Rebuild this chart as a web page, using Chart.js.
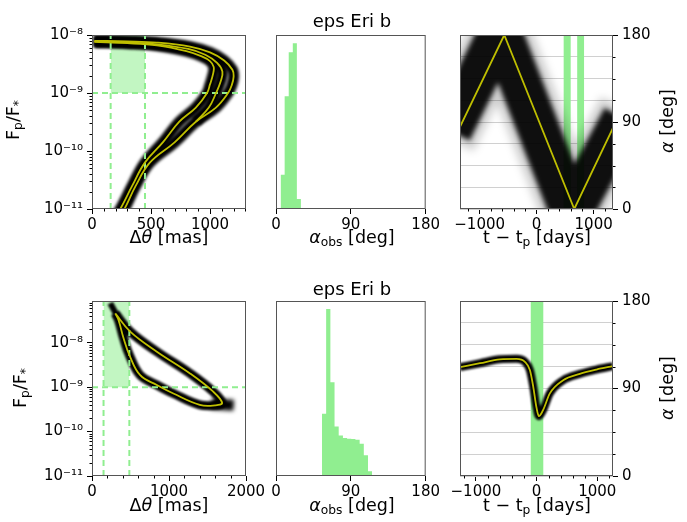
<!DOCTYPE html>
<html>
<head>
<meta charset="utf-8">
<title>eps Eri b</title>
<script src="https://cdn.jsdelivr.net/npm/chart.js@4.4.1/dist/chart.umd.min.js"></script>
<style>
  body { margin: 0; width: 687px; height: 522px; position: relative; overflow: hidden; background: #fff;
         font-family: "DejaVu Sans", sans-serif; color: #000; }
  canvas { position: absolute; }
  .lbl { position: absolute; font-size: 17.5px; white-space: nowrap; transform: translate(-50%, -50%); }
  .ttl { font-size: 18px; }
  .rot { transform: translate(-50%, -50%) rotate(-90deg); }
  sub { font-size: 70%; vertical-align: -0.25em; line-height: 0; }
</style>
</head>
<body>
<canvas id="sepTop"></canvas>
<canvas id="histTop"></canvas>
<canvas id="timeTop"></canvas>
<canvas id="sepBot"></canvas>
<canvas id="histBot"></canvas>
<canvas id="timeBot"></canvas>

<div class="lbl ttl" style="left:352px;top:20px;">eps Eri b</div>
<div class="lbl ttl" style="left:352px;top:288px;">eps Eri b</div>

<div class="lbl" style="left:169px;top:237px;">Δ<i>θ</i> [mas]</div>
<div class="lbl" style="left:352px;top:237px;"><i>α</i><sub>obs</sub> [deg]</div>
<div class="lbl" style="left:537px;top:237px;">t − t<sub>p</sub> [days]</div>
<div class="lbl" style="left:169px;top:505px;">Δ<i>θ</i> [mas]</div>
<div class="lbl" style="left:352px;top:505px;"><i>α</i><sub>obs</sub> [deg]</div>
<div class="lbl" style="left:537px;top:505px;">t − t<sub>p</sub> [days]</div>

<div class="lbl rot" style="left:13px;top:120px;">F<sub>p</sub>/F<sub>*</sub></div>
<div class="lbl rot" style="left:20px;top:388px;">F<sub>p</sub>/F<sub>*</sub></div>
<div class="lbl rot" style="left:667px;top:121px;"><i>α</i> [deg]</div>
<div class="lbl rot" style="left:667px;top:388px;"><i>α</i> [deg]</div>

<script>
// ---- values ----

// top row, flux ratio vs separation: three yellow tracks (mas, Fp/F*)
const sepInner = [20, 300, 550, 800, 930, 1000, 1031, 1025, 1000, 975, 880, 740, 600, 448, 340, 240, 190];
const fluxInner = [7.59e-9, 7.24e-9, 6.61e-9, 5.25e-9, 4.27e-9, 3.55e-9, 2.82e-9, 2.09e-9, 1.41e-9, 1.0e-9,
                   5.6e-10, 3.2e-10, 1.41e-10, 6.3e-11, 2.5e-11, 1.0e-11, 7e-12];
const sepMid = [20, 300, 550, 815, 960, 1060, 1105, 1090, 1051, 990, 880];
const fluxMid = [7.76e-9, 7.41e-9, 6.92e-9, 5.75e-9, 4.57e-9, 3.31e-9, 2.34e-9, 1.58e-9, 1.0e-9, 5.6e-10, 3.2e-10];
const sepOuter = [20, 300, 550, 830, 1000, 1120, 1190, 1200, 1185, 1153, 1050, 880, 700, 490, 370, 275, 225];
const fluxOuter = [7.94e-9, 7.76e-9, 7.41e-9, 6.31e-9, 5.01e-9, 3.63e-9, 2.51e-9, 1.91e-9, 1.38e-9, 1.0e-9,
                   5.6e-10, 3.2e-10, 1.41e-10, 6.3e-11, 2.5e-11, 1.0e-11, 7e-12];

// bottom row, flux ratio vs separation: one loop
const sepLoop = [302, 496, 842, 1273, 1575, 1690, 1600, 1400, 1057, 842, 626, 487, 410, 345, 302];
const fluxLoop = [4.57e-8, 1.78e-8, 6.3e-9, 2.04e-9, 7.9e-10, 4.4e-10, 3.9e-10, 4.0e-10, 7.2e-10,
                  1.12e-9, 1.86e-9, 5.2e-9, 1.26e-8, 3.2e-8, 4.57e-8];
const sepTail = [237, 330];
const fluxTail = [7.8e-8, 3.9e-8];
const sepTip = [1550, 1840];
const fluxTip = [4.2e-10, 3.9e-10];

// detection window (dashed green lines)
const iwaTop = 158, owaTop = 449;
const iwaBot = 150, owaBot = 485;
const fluxLimit = 1e-9;
const fluxMaxBot = 8.7e-8;

// observable phase angle histograms (deg, counts)
const alphaEdgesTop = [5.5, 10.4, 15.3, 20.2, 25.1, 30.0];
const alphaCountsTop = [103, 340, 473, 500, 30];
const alphaEdgesBot = [55.3, 60.3, 65.4, 70.4, 75.4, 80.5, 85.5, 90.5, 95.5, 100.6, 105.6, 110.6, 115.6];
const alphaCountsBot = [186, 498, 280, 148, 121, 113, 111, 110, 108, 96, 62, 14];

// phase angle vs time (days, deg)
const tFitTop = [-1345, -568, 660, 1340];
const alphaFitTop = [85, 180, 0, 84];
const tBandTop = [-1345, -640, 610, 1340];
const alphaBandTop = [100, 185, -5, 75];
const obsStartTop = [470, 710];
const obsEndTop = [600, 835];

const tFitBot = [-1262, -932, -604, -329, -192, -110, -55, 0, 38, 109, 219, 438, 712, 987, 1260];
const alphaFitBot = [112, 116, 120, 120.5, 117.5, 109, 92, 70, 61.5, 68, 85, 98.5, 105, 109.5, 113];
const obsStartBot = [-100];
const obsEndBot = [115];

// ---- styling helpers ----
const GREEN = '#90ee90';
const YELLOW = '#bfbf00';
const FONT = { family: 'DejaVu Sans', size: 15 };
const SUP = { '-': '\u207b', '0': '\u2070', '1': '\u00b9', '2': '\u00b2', '3': '\u00b3', '4': '\u2074',
              '5': '\u2075', '6': '\u2076', '7': '\u2077', '8': '\u2078', '9': '\u2079' };

function pts(xs, ys) {
    return xs.map((x, i) => ({ x: x, y: ys[i] }));
}

function histPoints(edges, counts) {
    const out = [{ x: edges[0], y: 0 }];
    counts.forEach((c, i) => out.push({ x: edges[i], y: c }));
    out.push({ x: edges[edges.length - 1], y: counts[counts.length - 1] });
    out.push({ x: edges[edges.length - 1], y: 0 });
    return out;
}

function num(v) {
    v = Math.round(v);
    return v < 0 ? '\u2212' + (-v) : String(v);
}

function logLabel(v) {
    const e = Math.log10(v);
    if (Math.abs(e - Math.round(e)) > 1e-6) return '';
    return '10' + String(Math.round(e)).split('').map(c => SUP[c]).join('');
}

const majorOnly = c => (c.tick && c.tick.label ? '#000' : 'rgba(0,0,0,0)');

function stepTicks(step) {
    return s => {
        const t = [];
        for (let v = Math.ceil(s.min / step - 1e-9) * step; v <= s.max + 1e-9; v += step) t.push({ value: v });
        s.ticks = t;
    };
}

function logTicks(s) {
    const t = [];
    for (let e = -12; e <= -6; e++) {
        for (let m = 1; m < 10; m++) {
            const v = m * Math.pow(10, e);
            if (v >= s.min * 0.999 && v <= s.max * 1.001) t.push({ value: v });
        }
    }
    s.ticks = t;
}

function linearAxis(min, max, step, major, position) {
    return {
        type: 'linear', min: min, max: max, bounds: 'data', position: position,
        border: { display: false },
        grid: { drawOnChartArea: false, tickLength: 5, tickColor: majorOnly },
        afterBuildTicks: stepTicks(step),
        ticks: {
            autoSkip: false, maxRotation: 0, padding: 2, color: '#000', font: FONT,
            callback: v => (Math.abs(Math.round(v) % major) < 1e-6 ? num(v) : '')
        }
    };
}

function logAxis(min, max) {
    return {
        type: 'logarithmic', min: min, max: max, bounds: 'data', position: 'left',
        border: { display: false },
        grid: { drawOnChartArea: false, tickLength: 5, tickColor: majorOnly },
        afterBuildTicks: logTicks,
        ticks: { autoSkip: false, padding: 4, color: '#000', font: FONT, callback: v => logLabel(v) }
    };
}

function alphaAxis() {
    const a = linearAxis(0, 180, 22.5, 90, 'right');
    a.grid = { drawOnChartArea: true, color: '#d0d0d0', lineWidth: 1, tickLength: 5, tickColor: majorOnly };
    a.ticks.padding = 4;
    return a;
}

function curve(xs, ys, color, width, order, extra) {
    return Object.assign({
        data: pts(xs, ys), borderColor: color, borderWidth: width, pointRadius: 0,
        fill: false, tension: 0.4, order: order
    }, extra || {});
}

function dashed(xs, ys) {
    return curve(xs, ys, GREEN, 2, 1, { tension: 0, borderDash: [6, 4] });
}

function band(xs, top, bottom, color, order) {
    // filled box from x0..x1, between `top` and the fill target
    return { data: pts(xs, [top, top]), borderWidth: 0, pointRadius: 0, backgroundColor: color,
             fill: bottom, tension: 0, order: order };
}

// soften the spread of sampled orbits
const soften = {
    id: 'soften',
    beforeDatasetDraw(chart, args) {
        const b = chart.data.datasets[args.index].blur;
        chart.ctx.save();
        if (b) chart.ctx.filter = 'blur(' + b + 'px)';
    },
    afterDatasetDraw(chart) {
        chart.ctx.restore();
    }
};

// short tick marks for the unlabeled ticks
const minorTicks = {
    id: 'minorTicks',
    afterDraw(chart) {
        const ctx = chart.ctx;
        ctx.save();
        ctx.strokeStyle = '#000';
        ctx.lineWidth = 1;
        Object.values(chart.scales).forEach(s => {
            if (s.options.display === false) return;
            s.ticks.forEach((t, i) => {
                if (t.label) return;
                const p = Math.round(s.getPixelForTick(i)) + 0.5;
                ctx.beginPath();
                if (s.isHorizontal()) { ctx.moveTo(p, s.top); ctx.lineTo(p, s.top + 2.5); }
                else if (s.position === 'left') { ctx.moveTo(s.right, p); ctx.lineTo(s.right - 2.5, p); }
                else { ctx.moveTo(s.left, p); ctx.lineTo(s.left + 2.5, p); }
                ctx.stroke();
            });
        });
        ctx.restore();
    }
};

const frame = {
    id: 'frame',
    afterDraw(chart) {
        const a = chart.chartArea, ctx = chart.ctx;
        ctx.save();
        ctx.strokeStyle = '#555';
        ctx.lineWidth = 1;
        ctx.strokeRect(a.left + 0.5, a.top + 0.5, a.right - a.left - 1, a.bottom - a.top - 1);
        ctx.restore();
    }
};

// put a canvas at `box` (page px) so that its plot area is exactly `area`
function makePanel(id, box, area, xScale, yScale, datasets) {
    const c = document.getElementById(id);
    c.width = box.w;
    c.height = box.h;
    c.style.left = box.x + 'px';
    c.style.top = box.y + 'px';
    const yPos = yScale.display === false ? null : yScale.position;
    xScale.afterFit = s => { s.height = box.y + box.h - area.b; };
    if (yPos === 'left') yScale.afterFit = s => { s.width = area.l - box.x; };
    if (yPos === 'right') yScale.afterFit = s => { s.width = box.x + box.w - area.r; };
    return new Chart(c, {
        type: 'line',
        data: { datasets: datasets },
        options: {
            responsive: false,
            animation: false,
            events: [],
            layout: {
                autoPadding: false,
                padding: {
                    top: area.t - box.y,
                    bottom: 0,
                    left: yPos === 'left' ? 0 : area.l - box.x,
                    right: yPos === 'right' ? 0 : box.x + box.w - area.r
                }
            },
            plugins: { legend: { display: false }, tooltip: { enabled: false } },
            scales: { x: xScale, y: yScale }
        },
        plugins: [soften, minorTicks, frame]
    });
}

// ---- top row ----
makePanel('sepTop', { x: 0, y: 0, w: 270, h: 250 }, { l: 92, t: 35, r: 246, b: 209 },
    linearAxis(0, 1305, 100, 500, 'bottom'),
    logAxis(1e-11, 1e-8),
    [
        curve(sepInner, fluxInner, YELLOW, 1.8, 0),
        curve(sepMid, fluxMid, YELLOW, 1.8, 0),
        curve(sepOuter, fluxOuter, YELLOW, 1.8, 0),
        dashed([iwaTop, iwaTop], [1e-11, 1e-8]),
        dashed([owaTop, owaTop], [1e-11, 1e-8]),
        dashed([0, 1305], [fluxLimit, fluxLimit]),
        curve(sepInner, fluxInner, '#000', 11, 2, { blur: 1.5 }),
        curve(sepMid, fluxMid, '#000', 11, 2, { blur: 1.5 }),
        curve(sepOuter, fluxOuter, '#000', 11, 2, { blur: 1.5 }),
        band([iwaTop, owaTop], 1e-8, { value: fluxLimit }, 'rgba(144,238,144,0.55)', 3)
    ]);

const histTopY = { display: false, min: 0, max: 525 };
makePanel('histTop', { x: 262, y: 0, w: 180, h: 250 }, { l: 276, t: 35, r: 429, b: 209 },
    linearAxis(0, 180, 90, 90, 'bottom'),
    histTopY,
    [
        { data: histPoints(alphaEdgesTop, alphaCountsTop), stepped: 'before', fill: 'origin',
          backgroundColor: GREEN, borderWidth: 0, pointRadius: 0 }
    ]);

const timeTopSets = [
    curve(tFitTop, alphaFitTop, YELLOW, 1.8, 0, { tension: 0 }),
    curve(tBandTop, alphaBandTop, 'rgba(0,0,0,0.93)', 42, 1, { tension: 0, blur: 2.5, borderCapStyle: 'square' }),
    curve(tBandTop, alphaBandTop, 'rgba(0,0,0,0.2)', 58, 2, { tension: 0, blur: 4, borderCapStyle: 'square' })
];
obsStartTop.forEach((s, i) => timeTopSets.push(band([s, obsEndTop[i]], 180, 'start', GREEN, 3)));
makePanel('timeTop', { x: 442, y: 0, w: 245, h: 250 }, { l: 460, t: 35, r: 613, b: 209 },
    linearAxis(-1345, 1340, 200, 1000, 'bottom'),
    alphaAxis(),
    timeTopSets);

// ---- bottom row ----
makePanel('sepBot', { x: 0, y: 260, w: 270, h: 262 }, { l: 92, t: 301, r: 246, b: 476 },
    linearAxis(0, 2000, 200, 1000, 'bottom'),
    logAxis(1e-11, fluxMaxBot),
    [
        curve(sepLoop, fluxLoop, YELLOW, 1.8, 0),
        dashed([iwaBot, iwaBot], [1e-11, fluxMaxBot]),
        dashed([owaBot, owaBot], [1e-11, fluxMaxBot]),
        dashed([0, 2000], [fluxLimit, fluxLimit]),
        curve(sepLoop, fluxLoop, '#000', 9, 2, { blur: 1.2 }),
        curve(sepTail, fluxTail, '#000', 6, 2, { blur: 1.2, tension: 0 }),
        curve(sepTip, fluxTip, '#000', 11, 2, { blur: 2, tension: 0 }),
        band([iwaBot, owaBot], fluxMaxBot, { value: fluxLimit }, 'rgba(144,238,144,0.55)', 3)
    ]);

const histBotY = { display: false, min: 0, max: 522 };
makePanel('histBot', { x: 262, y: 260, w: 180, h: 262 }, { l: 276, t: 301, r: 429, b: 476 },
    linearAxis(0, 180, 90, 90, 'bottom'),
    histBotY,
    [
        { data: histPoints(alphaEdgesBot, alphaCountsBot), stepped: 'before', fill: 'origin',
          backgroundColor: GREEN, borderWidth: 0, pointRadius: 0 }
    ]);

const timeBotSets = [
    curve(tFitBot, alphaFitBot, YELLOW, 1.8, 0, { cubicInterpolationMode: 'monotone' }),
    curve(tFitBot, alphaFitBot, '#000', 8, 1, { cubicInterpolationMode: 'monotone', blur: 1.2 })
];
obsStartBot.forEach((s, i) => timeBotSets.push(band([s, obsEndBot[i]], 180, 'start', GREEN, 3)));
makePanel('timeBot', { x: 442, y: 260, w: 245, h: 262 }, { l: 460, t: 301, r: 613, b: 476 },
    linearAxis(-1262, 1260, 200, 1000, 'bottom'),
    alphaAxis(),
    timeBotSets);
</script>
</body>
</html>
